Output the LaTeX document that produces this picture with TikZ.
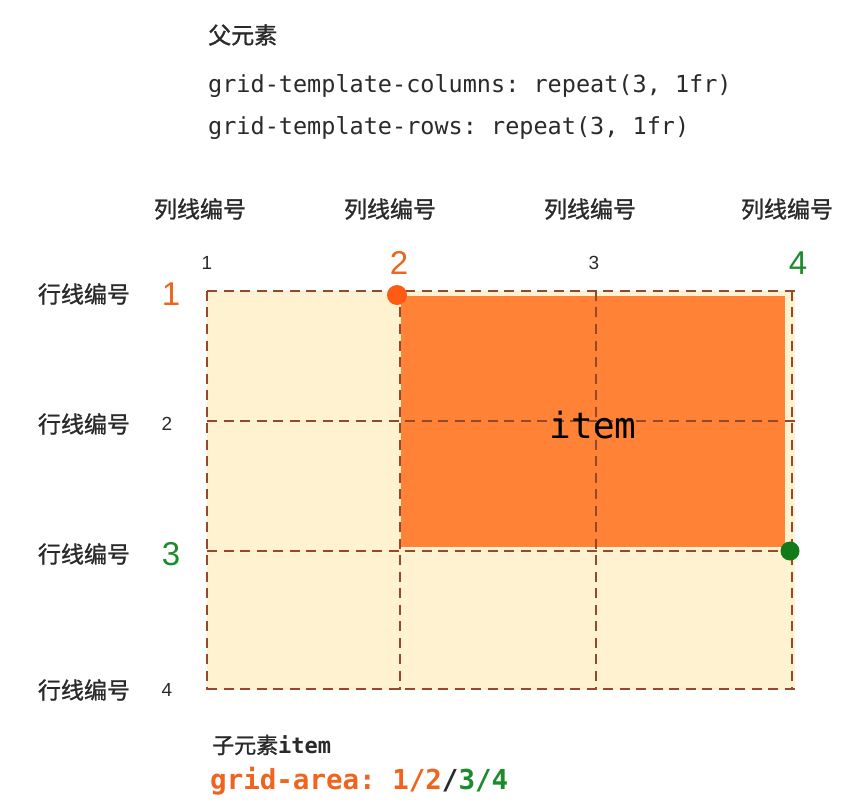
\documentclass[tikz,border=0pt]{standalone}
\usepackage{fontspec}
\setmainfont{Liberation Sans}
\newfontfamily\cjk[FakeBold=1.2]{Noto Sans CJK SC}
\newfontfamily\mono{DejaVu Sans Mono}
\definecolor{orng}{HTML}{F0641E}
\definecolor{itemfill}{HTML}{FF8236}
\definecolor{cream}{HTML}{FEF2D0}
\definecolor{brn}{HTML}{94492A}
\definecolor{grn}{HTML}{1E8A2E}
\definecolor{dotor}{HTML}{FF5A14}
\definecolor{dotgr}{HTML}{127A16}
\definecolor{txt}{HTML}{2A2A2A}
\frenchspacing
\begin{document}
\begin{tikzpicture}[x=1pt,y=-1pt,
  gridline/.style={draw=brn, line width=2.5pt, dash pattern=on 10pt off 6.5pt},
  cnlabel/.style={font=\cjk\fontsize{23}{23}\selectfont, text=txt, inner sep=0pt},
  smallnum/.style={font=\fontsize{19}{19}\selectfont, text=txt, inner sep=0pt},
  bignum/.style={font=\fontsize{33}{33}\selectfont, inner sep=0pt},
  code/.style={font=\mono\fontsize{23.5}{24}\selectfont, text=txt, anchor=west, inner sep=0pt},
  dot/.style={circle, inner sep=0pt, minimum size=20pt}]
\fill[white] (0,0) rectangle (854,810);
\useasboundingbox (0,0) rectangle (854,810);
% header
\node[cnlabel, anchor=west] (parent) at (208,35) {父元素};
\node[code] (cols) at (208,86) {grid-template-columns: repeat(3, 1fr)};
\node[code] (rows) at (208,128) {grid-template-rows: repeat(3, 1fr)};
% grid
\fill[cream] (207,291) rectangle (795,690);
\fill[itemfill] (401,296) rectangle (785,547);
\foreach \x in {207,400,596,792} \draw[gridline] (\x,291) -- (\x,690);
\foreach \y in {291,421,551,689} \draw[gridline] (207,\y) -- (795,\y);
\node[font=\mono\fontsize{36}{36}\selectfont, text=black, inner sep=0pt] (item) at (593,425) {item};
\node[dot, fill=dotor] (d1) at (397,295) {};
\node[dot, fill=dotgr, minimum size=19pt] (d2) at (790,551) {};
% column labels
\foreach \x/\n in {200/c1,390/c2,590/c3,787/c4}
  \node[cnlabel] (\n) at (\x,209) {列线编号};
\node[smallnum] (n1) at (207,263) {1};
\node[bignum, text=orng] (n2) at (399,263) {2};
\node[smallnum] (n3) at (594,263) {3};
\node[bignum, text=grn] (n4) at (798,263) {4};
% row labels
\foreach \y/\n in {294/r1,424/r2,554/r3,690/r4}
  \node[cnlabel] (\n) at (84,\y) {行线编号};
\node[bignum, text=orng] (m1) at (171,294) {1};
\node[smallnum] (m2) at (167,424) {2};
\node[bignum, text=grn] (m3) at (171,554) {3};
\node[smallnum] (m4) at (167,690) {4};
% footer
\node[anchor=west, inner sep=0pt, text=txt] (child) at (212,745) {{\cjk\fontsize{22}{22}\selectfont 子元素}{\mono\bfseries\fontsize{22}{22}\selectfont item}};
\node[anchor=west, inner sep=0pt, font=\mono\bfseries\fontsize{27.5}{27.5}\selectfont] (area) at (210,781) {\textcolor{orng}{grid-area: 1/2}\textcolor{txt}{/}\textcolor{grn}{3/4}};
\end{tikzpicture}
\end{document}
